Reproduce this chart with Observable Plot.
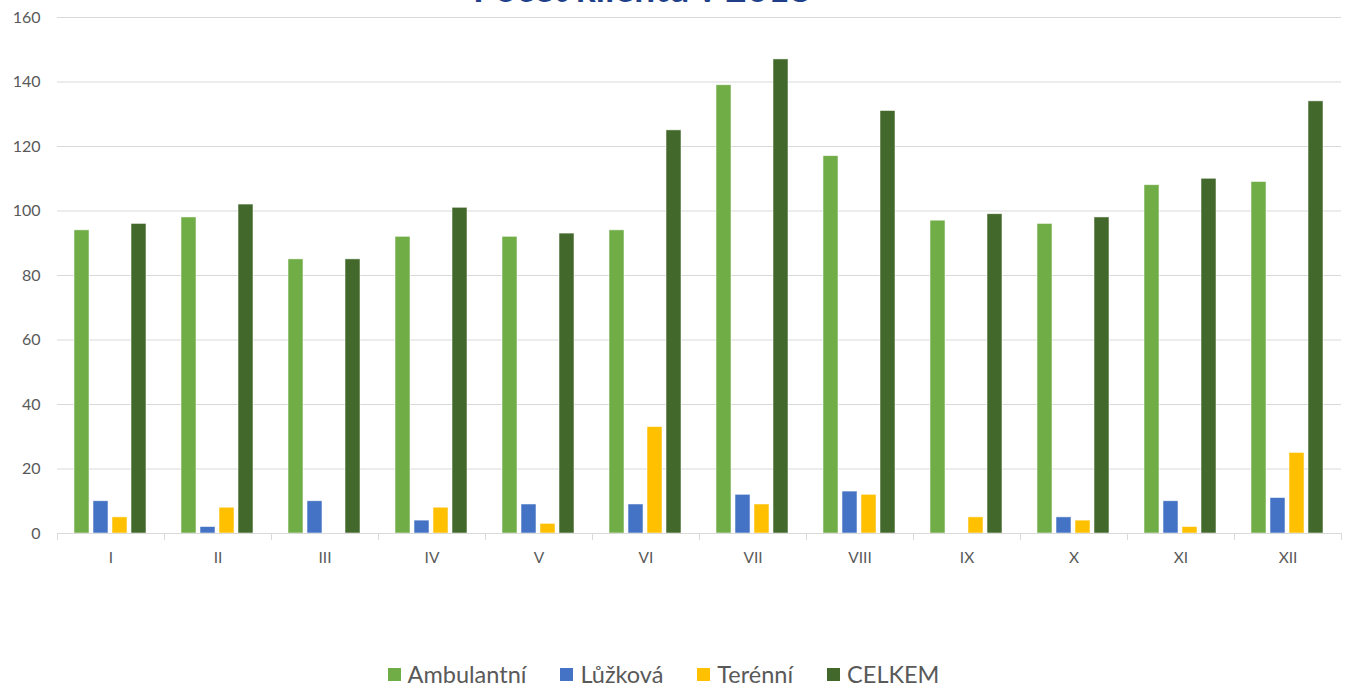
<!DOCTYPE html>
<html>
<head>
<meta charset="utf-8">
<script src="https://cdn.jsdelivr.net/npm/d3@7"></script>
<script src="https://cdn.jsdelivr.net/npm/@observablehq/plot@0.6"></script>
<style>
  html, body { margin: 0; padding: 0; background: #fff; overflow: hidden; }
  #wrap { position: relative; width: 1347px; height: 686px; font-family: Lato, "Open Sans", sans-serif; }
  #title { position: absolute; top: -30px; left: 642px; transform: translateX(-50%); white-space: nowrap;
           font: bold 37px/36px Lato, sans-serif; color: #203f8a; }
  #legend { position: absolute; top: 660px; left: 0; width: 1347px; display: flex; justify-content: center;
            transform: translateX(-10px); font-size: 23.5px; line-height: 28px; color: #595959; }
  .item { display: flex; align-items: center; margin: 0 17px; }
  .sw { width: 13px; height: 13px; margin-right: 7px; }
</style>
</head>
<body>
<div id="wrap">
  <div id="chart"></div>
  <div id="title">Počet klientů v 2018</div>
  <div id="legend"></div>
</div>
<script>
const months = ["I", "II", "III", "IV", "V", "VI", "VII", "VIII", "IX", "X", "XI", "XII"];
const series = ["Ambulantní", "Lůžková", "Terénní", "CELKEM"];
const ambulantni = [94, 98, 85, 92, 92, 94, 139, 117, 97, 96, 108, 109];
const luzkova    = [10, 2, 10, 4, 9, 9, 12, 13, 0, 5, 10, 11];
const terenni    = [5, 8, 0, 8, 3, 33, 9, 12, 5, 4, 2, 25];
const celkem     = [96, 102, 85, 101, 93, 125, 147, 131, 99, 98, 110, 134];
const yTicks = [0, 20, 40, 60, 80, 100, 120, 140, 160];
const colors = ["#70AD47", "#4472C4", "#FFC000", "#43682B"];

const seriesValues = [ambulantni, luzkova, terenni, celkem];
const data = months.flatMap((m, i) => series.map((s, k) => ({month: m, series: s, value: seriesValues[k][i]})));

const chart = Plot.plot({
  width: 1347,
  height: 600,
  marginLeft: 55,
  marginRight: 4,
  marginTop: 17,
  marginBottom: 67,
  style: {fontFamily: "Lato, sans-serif", color: "#595959", background: "white"},
  fx: {domain: months, padding: 0, label: null, axis: null},
  x: {domain: series, paddingInner: 0.2, paddingOuter: 0.8, axis: null},
  y: {domain: [0, 160], label: null},
  color: {domain: series, range: colors},
  marks: [
    Plot.gridY(yTicks, {stroke: "#d9d9d9", strokeOpacity: 1, strokeWidth: 1}),
    Plot.barY(data.filter(d => d.value > 0), {fx: "month", x: "series", y: "value", fill: "series",
      stroke: "white", strokeOpacity: 0.7, strokeWidth: 0.75}),
    Plot.ruleY([0], {stroke: "#d9d9d9", strokeWidth: 1}),
    Plot.frame({anchor: "left", insetTop: 516, insetBottom: -6, stroke: "#d9d9d9"}),
    Plot.frame({anchor: "right", insetTop: 516, insetBottom: -6, stroke: "#d9d9d9"}),
    Plot.axisY(yTicks, {tickSize: 0, tickPadding: 17, fontSize: 16, fill: "#595959", label: null}),
    Plot.axisFx({anchor: "bottom", tickSize: 0, tickPadding: 18, fontSize: 15.5, fill: "#595959", label: null})
  ]
});
document.getElementById("chart").appendChild(chart);

const legend = document.getElementById("legend");
series.forEach((s, k) => {
  const it = document.createElement("div");
  it.className = "item";
  it.innerHTML = `<span class="sw" style="background:${colors[k]}"></span><span>${s}</span>`;
  legend.appendChild(it);
});
</script>
</body>
</html>
